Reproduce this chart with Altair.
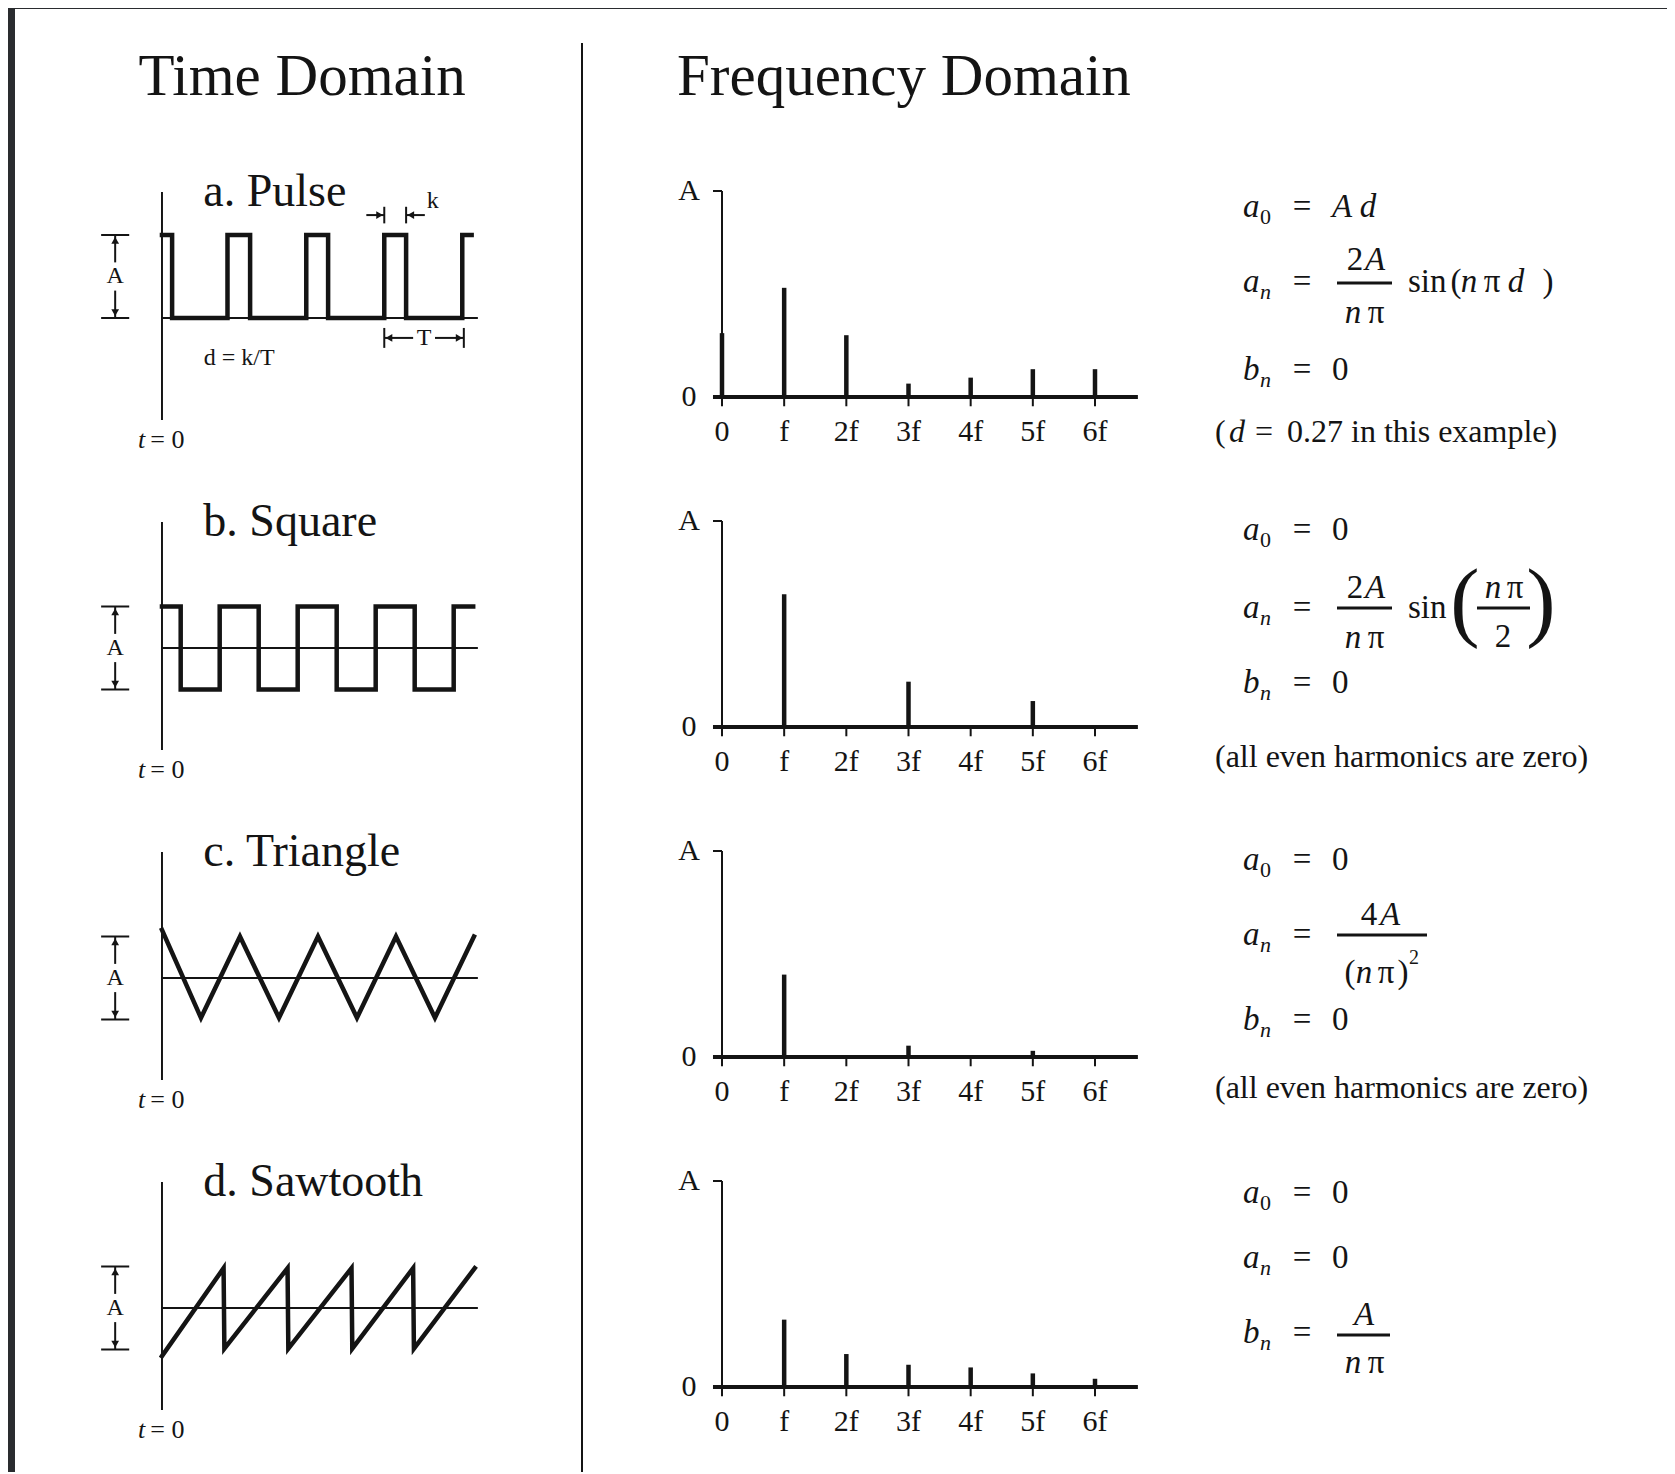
import altair as alt
import pandas as pd

# ------------------------------------------------------------------ data
TIME_TITLE = "Time Domain"
FREQ_TITLE = "Frequency Domain"
PANEL_TITLES = ["a. Pulse", "b. Square", "c. Triangle", "d. Sawtooth"]

# time-domain waveforms: t in periods of the pulse train, y in units of A
PULSE_T = [0.0, 0.13, 0.13, 0.84, 0.84, 1.13, 1.13, 1.85, 1.85, 2.13, 2.13,
           2.85, 2.85, 3.13, 3.13, 3.85, 3.85, 3.97]
PULSE_Y = [1, 1, 0, 0, 1, 1, 0, 0, 1, 1, 0, 0, 1, 1, 0, 0, 1, 1]
SQUARE_T = [0.0, 0.24, 0.24, 0.74, 0.74, 1.24, 1.24, 1.74, 1.74, 2.24, 2.24,
            2.74, 2.74, 3.24, 3.24, 3.74, 3.74, 3.99]
SQUARE_Y = [0.5, 0.5, -0.5, -0.5, 0.5, 0.5, -0.5, -0.5, 0.5, 0.5, -0.5, -0.5,
            0.5, 0.5, -0.5, -0.5, 0.5, 0.5]
TRIANGLE_T = [0.0, 0.5, 1.0, 1.5, 2.0, 2.5, 3.0, 3.5, 4.0]
TRIANGLE_Y = [0.58, -0.48, 0.5, -0.48, 0.5, -0.48, 0.5, -0.48, 0.5]
SAW_T = [0.0, 0.79, 0.80, 1.61, 1.62, 2.43, 2.44, 3.22, 3.23, 4.01]
SAW_Y = [-0.58, 0.48, -0.49, 0.48, -0.49, 0.48, -0.49, 0.48, -0.49, 0.48]
WAVES_T = [PULSE_T, SQUARE_T, TRIANGLE_T, SAW_T]
WAVES_Y = [PULSE_Y, SQUARE_Y, TRIANGLE_Y, SAW_Y]
A_TOP = [1.0, 0.5, 0.5, 0.5]
A_BOT = [0.0, -0.5, -0.5, -0.5]

# frequency-domain spectra (amplitude in units of A)
HARMONICS = [0, 1, 2, 3, 4, 5, 6]
FREQ_LABELS = ["0", "f", "2f", "3f", "4f", "5f", "6f"]
PULSE_AMP = [0.31, 0.53, 0.30, 0.065, 0.094, 0.135, 0.135]
SQUARE_AMP = [0, 0.644, 0, 0.22, 0, 0.126, 0]
TRIANGLE_AMP = [0, 0.40, 0, 0.055, 0, 0.03, 0]
SAW_AMP = [0, 0.327, 0.16, 0.108, 0.095, 0.066, 0.04]
AMPS = [PULSE_AMP, SQUARE_AMP, TRIANGLE_AMP, SAW_AMP]

# ------------------------------------------------------------------ style / layout
FONT = "Liberation Serif"
INK = "#141414"
BAND = "#2a2c2f"
W_TIME, W_FREQ, W_EQ = 574, 618, 467
ROW_H, TITLE_H = 330, 144

T_X = alt.Scale(domain=[-1.974, 5.385], nice=False, zero=False)
T_Y = alt.Scale(domain=[-1.976, 2.0], nice=False, zero=False)
F_X = alt.Scale(domain=[-2.252, 7.689], nice=False, zero=False)
F_Y = alt.Scale(domain=[-0.4126, 1.1893], nice=False, zero=False)
E_X = alt.Scale(domain=[0, W_EQ], nice=False, zero=False)
E_Y = alt.Scale(domain=[0, ROW_H], nice=False, zero=False, reverse=True)

S, SS, N = 33, 22, 32


def lhs(letter, sub, y, sub_style):
    return [(letter, 43, y, S, "italic", "left"),
            (sub, 60, y + 10, SS, sub_style, "left"),
            ("=", 102, y, S, "normal", "center")]


EQ_TEXT = [
    lhs("a", "0", 55, "normal") + [("A d", 132, 55, S, "italic", "left")]
    + lhs("a", "n", 130, "italic")
    + [("2", 155, 108, S, "normal", "center"), ("A", 175, 108, S, "italic", "center"),
       ("n", 153, 161, S, "italic", "center"), ("π", 176, 161, S, "normal", "center"),
       ("sin", 208, 130, S, "normal", "left"), ("(", 256, 130, S, "normal", "center"),
       ("n", 269, 130, S, "italic", "center"), ("π", 292, 130, S, "normal", "center"),
       ("d", 316, 130, S, "italic", "center"), (")", 348, 130, S, "normal", "center")]
    + lhs("b", "n", 218, "italic") + [("0", 132, 218, S, "normal", "left")]
    + [("(", 15, 280, N, "normal", "left"), ("d", 37, 280, N, "italic", "center"),
       ("=", 64, 280, N, "normal", "center"),
       ("0.27 in this example)", 87, 280, N, "normal", "left")],
    lhs("a", "0", 48, "normal") + [("0", 132, 48, S, "normal", "left")]
    + lhs("a", "n", 126, "italic")
    + [("2", 155, 106, S, "normal", "center"), ("A", 175, 106, S, "italic", "center"),
       ("n", 153, 156, S, "italic", "center"), ("π", 176, 156, S, "normal", "center"),
       ("sin", 208, 126, S, "normal", "left"), ("(", 265, 122, 88, "normal", "center"),
       ("n", 293, 106, S, "italic", "center"), ("π", 315, 106, S, "normal", "center"),
       ("2", 303, 155, S, "normal", "center"), (")", 341, 122, 88, "normal", "center")]
    + lhs("b", "n", 201, "italic") + [("0", 132, 201, S, "normal", "left")]
    + [("(all even harmonics are zero)", 15, 275, N, "normal", "left")],
    lhs("a", "0", 48, "normal") + [("0", 132, 48, S, "normal", "left")]
    + lhs("a", "n", 123, "italic")
    + [("4", 169, 103, S, "normal", "center"), ("A", 190, 103, S, "italic", "center"),
       ("(", 150, 161, S, "normal", "center"), ("n", 164, 161, S, "italic", "center"),
       ("π", 186, 161, S, "normal", "center"), (")", 203, 161, S, "normal", "center"),
       ("2", 214, 146, 20, "normal", "center")]
    + lhs("b", "n", 208, "italic") + [("0", 132, 208, S, "normal", "left")]
    + [("(all even harmonics are zero)", 15, 276, N, "normal", "left")],
    lhs("a", "0", 51, "normal") + [("0", 132, 51, S, "normal", "left")]
    + lhs("a", "n", 116, "italic") + [("0", 132, 116, S, "normal", "left")]
    + lhs("b", "n", 191, "italic")
    + [("A", 164, 173, S, "italic", "center"),
       ("n", 153, 221, S, "italic", "center"), ("π", 176, 221, S, "normal", "center")],
]
EQ_BARS = [[(137, 192, 131)], [(137, 192, 126), (277, 330, 126)],
           [(137, 227, 123)], [(137, 190, 193)]]

ONE = pd.DataFrame({"a": [0]})


def frame(rows):
    return pd.DataFrame(rows, columns=["x", "x2", "y", "y2"])


def rule_layer(df, xs, ys, width):
    return alt.Chart(df).mark_rule(color=INK, strokeWidth=width, strokeCap="butt").encode(
        x=alt.X("x:Q", scale=xs, axis=None), x2=alt.X2("x2"),
        y=alt.Y("y:Q", scale=ys, axis=None), y2=alt.Y2("y2"))


def text_layer(df, xs, ys, size, style="normal", align="center"):
    return alt.Chart(df).mark_text(font=FONT, fontSize=size, fontStyle=style, align=align,
                                   baseline="middle", color=INK).encode(
        x=alt.X("x:Q", scale=xs, axis=None), y=alt.Y("y:Q", scale=ys, axis=None),
        text="text:N")


def head_layer(df, xs, ys, size=60):
    return alt.Chart(df).mark_point(filled=True, color=INK, opacity=1, size=size,
                                    strokeWidth=0).encode(
        x=alt.X("x:Q", scale=xs, axis=None), y=alt.Y("y:Q", scale=ys, axis=None),
        shape=alt.Shape("shape:N", scale=None))


def divider(h, top=0):
    return alt.Chart(ONE).mark_rule(color=INK, strokeWidth=2).encode(
        x=alt.value(W_TIME), y=alt.value(top), y2=alt.value(h))


def band(h):
    return alt.Chart(ONE).mark_rect(color=BAND).encode(
        x=alt.value(0), x2=alt.value(7), y=alt.value(0), y2=alt.value(h))


def time_panel(i):
    n = len(WAVES_T[i])
    wave = pd.DataFrame({"x": WAVES_T[i], "y": WAVES_Y[i], "k": list(range(n))})
    line = alt.Chart(wave).mark_line(color=INK, strokeWidth=4.5, strokeJoin="miter",
                                     strokeCap="square").encode(
        x=alt.X("x:Q", scale=T_X, axis=None), y=alt.Y("y:Q", scale=T_Y, axis=None),
        order="k:Q")
    axes = frame([(0, 0, 1.518, -1.229), (0, 4.05, 0, 0)])
    top, bot = A_TOP[i], A_BOT[i]
    mid = (top + bot) / 2
    g = 0.17
    marker = frame([(-0.78, -0.42, top, top), (-0.78, -0.42, bot, bot),
                    (-0.6, -0.6, top, mid + g), (-0.6, -0.6, mid - g, bot)])
    heads = pd.DataFrame({"x": [-0.6, -0.6], "y": [top - 0.065, bot + 0.065],
                          "shape": ["triangle-up", "triangle-down"]})
    a_lab = pd.DataFrame({"x": [-0.6], "y": [mid], "text": ["A"]})
    sub = pd.DataFrame({"x": [0.53], "y": [1.518], "text": [PANEL_TITLES[i]]})
    t_it = pd.DataFrame({"x": [-0.26], "y": [-1.47], "text": ["t"]})
    t_eq = pd.DataFrame({"x": [0.07], "y": [-1.47], "text": ["= 0"]})
    layers = [band(ROW_H), divider(ROW_H),
              rule_layer(axes, T_X, T_Y, 2), line,
              rule_layer(marker, T_X, T_Y, 2), head_layer(heads, T_X, T_Y),
              text_layer(a_lab, T_X, T_Y, 24),
              text_layer(sub, T_X, T_Y, 46, align="left"),
              text_layer(t_it, T_X, T_Y, 26, style="italic"),
              text_layer(t_eq, T_X, T_Y, 26)]
    if i == 0:
        ann = frame([(2.85, 2.85, -0.12, -0.36), (3.87, 3.87, -0.12, -0.36),
                     (2.85, 3.22, -0.24, -0.24), (3.50, 3.87, -0.24, -0.24),
                     (2.85, 2.85, 1.14, 1.34), (3.13, 3.13, 1.14, 1.34),
                     (2.62, 2.85, 1.24, 1.24), (3.13, 3.37, 1.24, 1.24)])
        ah = pd.DataFrame({"x": [2.91, 3.81, 2.79, 3.19], "y": [-0.24, -0.24, 1.24, 1.24],
                           "shape": ["triangle-left", "triangle-right",
                                     "triangle-right", "triangle-left"]})
        lab = pd.DataFrame({"x": [3.36, 3.47], "y": [-0.24, 1.41], "text": ["T", "k"]})
        dk = pd.DataFrame({"x": [0.99], "y": [-0.48], "text": ["d = k/T"]})
        layers += [rule_layer(ann, T_X, T_Y, 2), head_layer(ah, T_X, T_Y),
                   text_layer(lab, T_X, T_Y, 24), text_layer(dk, T_X, T_Y, 24)]
    return alt.layer(*layers).properties(width=W_TIME, height=ROW_H)


def freq_panel(i):
    bars = pd.DataFrame({"x": HARMONICS, "x2": HARMONICS, "y": AMPS[i], "y2": [0] * 7})
    bars = bars[bars["y"] > 0]
    x_axis = frame([(-0.145, 6.69, 0, 0)])
    thin = frame([(0, 0, 0, 1), (-0.145, 0, 1, 1)] + [(h, h, 0, -0.045) for h in HARMONICS])
    xl = pd.DataFrame({"x": HARMONICS, "y": [-0.17] * 7, "text": FREQ_LABELS})
    yl = pd.DataFrame({"x": [-0.53, -0.53], "y": [1, 0], "text": ["A", "0"]})
    return alt.layer(
        rule_layer(thin, F_X, F_Y, 2), rule_layer(x_axis, F_X, F_Y, 4),
        rule_layer(bars, F_X, F_Y, 4.5),
        text_layer(xl, F_X, F_Y, 30), text_layer(yl, F_X, F_Y, 30),
    ).properties(width=W_FREQ, height=ROW_H)


def eq_panel(i):
    df = pd.DataFrame(EQ_TEXT[i], columns=["text", "x", "y", "size", "style", "align"])
    layers = []
    for (style, align), part in df.groupby(["style", "align"]):
        layers.append(alt.Chart(part).mark_text(font=FONT, fontStyle=style, align=align,
                                                baseline="middle", color=INK).encode(
            x=alt.X("x:Q", scale=E_X, axis=None), y=alt.Y("y:Q", scale=E_Y, axis=None),
            text="text:N", size=alt.Size("size:Q", scale=None)))
    bars = frame([(a, b, y, y) for a, b, y in EQ_BARS[i]])
    layers.append(rule_layer(bars, E_X, E_Y, 3))
    return alt.layer(*layers).properties(width=W_EQ, height=ROW_H)


def top_band(w):
    return alt.Chart(ONE).mark_rect(color=BAND).encode(
        x=alt.value(0), x2=alt.value(w), y=alt.value(0), y2=alt.value(1))


left_title = alt.layer(
    band(TITLE_H), divider(TITLE_H, top=35), top_band(W_TIME),
    alt.Chart(ONE).mark_text(text=TIME_TITLE, font=FONT, fontSize=59, align="center",
                             baseline="middle", color=INK).encode(
        x=alt.value(294), y=alt.value(69)),
).properties(width=W_TIME, height=TITLE_H)

mid_title = alt.layer(
    top_band(W_FREQ),
    alt.Chart(ONE).mark_text(text=FREQ_TITLE, font=FONT, fontSize=59, align="left",
                             baseline="middle", color=INK).encode(
        x=alt.value(95), y=alt.value(69)),
).properties(width=W_FREQ, height=TITLE_H)

right_title = alt.layer(top_band(W_EQ)).properties(width=W_EQ, height=TITLE_H)

cells = [left_title, mid_title, right_title]
for i in range(4):
    cells += [time_panel(i), freq_panel(i), eq_panel(i)]

chart = alt.concat(*cells, columns=3, spacing=0, bounds="flush").properties(
    padding=0, background="white"
).configure_view(stroke="transparent", strokeWidth=0, strokeOpacity=0)

chart.save("out.html", embed_options={"renderer": "svg", "actions": False})
